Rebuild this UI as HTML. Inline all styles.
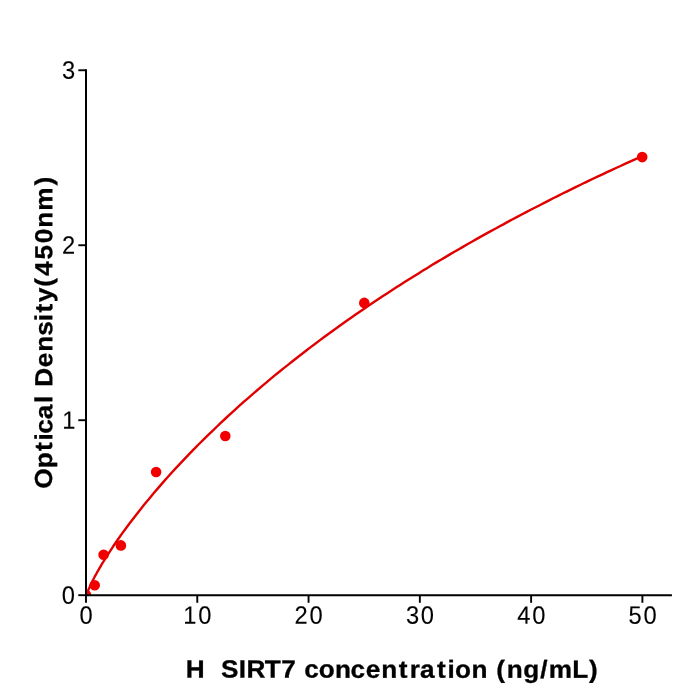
<!DOCTYPE html>
<html><head><meta charset="utf-8"><title>H SIRT7 ELISA standard curve</title>
<style>
html,body{margin:0;padding:0;background:#fff;}
body{width:700px;height:700px;overflow:hidden;font-family:"Liberation Sans",sans-serif;}
svg{display:block;will-change:transform;}
text{font-family:"Liberation Sans",sans-serif;fill:#000;text-rendering:geometricPrecision;}
.lab{font-weight:bold;}
</style></head><body>
<svg width="700" height="700" viewBox="0 0 700 700">
<rect width="700" height="700" fill="#ffffff"/>
<defs><clipPath id="ax"><rect x="86" y="70" width="584.3" height="525.1"/></clipPath></defs>

<g clip-path="url(#ax)"><polyline fill="none" stroke="#e10000" stroke-width="2.4" stroke-linejoin="round" stroke-linecap="round" points="86.5,595.3 87.3,592.8 88.0,590.8 88.8,588.9 89.6,587.2 90.3,585.5 91.1,583.9 91.9,582.3 92.6,580.8 93.4,579.3 94.2,577.8 94.9,576.3 95.7,574.9 96.5,573.5 97.2,572.1 98.0,570.8 98.8,569.4 99.5,568.1 100.3,566.8 101.1,565.5 101.8,564.2 102.6,562.9 103.4,561.7 104.2,560.4 104.9,559.2 105.7,557.9 106.5,556.7 107.2,555.5 108.0,554.3 108.8,553.1 113.2,546.3 117.7,539.8 122.2,533.4 126.7,527.2 131.2,521.3 135.7,515.4 140.2,509.7 144.7,504.1 149.2,498.7 153.6,493.3 158.1,488.1 162.6,482.9 167.1,477.8 171.6,472.8 176.1,467.9 180.6,463.1 185.1,458.4 189.6,453.7 194.0,449.1 198.5,444.5 203.0,440.1 207.5,435.6 212.0,431.3 216.5,427.0 221.0,422.7 225.5,418.5 229.9,414.4 234.4,410.3 238.9,406.2 243.4,402.2 247.9,398.3 252.4,394.4 256.9,390.5 261.4,386.7 265.9,382.9 270.3,379.1 274.8,375.4 279.3,371.8 283.8,368.1 288.3,364.6 292.8,361.0 297.3,357.5 301.8,354.0 306.3,350.5 310.7,347.1 315.2,343.7 319.7,340.4 324.2,337.0 328.7,333.7 333.2,330.5 337.7,327.2 342.2,324.0 346.7,320.8 351.1,317.7 355.6,314.6 360.1,311.5 364.6,308.4 369.1,305.3 373.6,302.3 378.1,299.3 382.6,296.3 387.0,293.4 391.5,290.5 396.0,287.6 400.5,284.7 405.0,281.8 409.5,279.0 414.0,276.2 418.5,273.4 423.0,270.6 427.4,267.9 431.9,265.1 436.4,262.4 440.9,259.7 445.4,257.1 449.9,254.4 454.4,251.8 458.9,249.2 463.4,246.6 467.8,244.0 472.3,241.5 476.8,238.9 481.3,236.4 485.8,233.9 490.3,231.4 494.8,229.0 499.3,226.5 503.8,224.1 508.2,221.6 512.7,219.2 517.2,216.9 521.7,214.5 526.2,212.1 530.7,209.8 535.2,207.5 539.7,205.2 544.2,202.9 548.6,200.6 553.1,198.3 557.6,196.1 562.1,193.8 566.6,191.6 571.1,189.4 575.6,187.2 580.1,185.0 584.5,182.8 589.0,180.7 593.5,178.5 598.0,176.4 602.5,174.3 607.0,172.2 611.5,170.1 616.0,168.0 620.5,166.0 624.9,163.9 629.4,161.9 633.9,159.8 638.4,157.8 642.9,155.8"/>
<circle cx="86.0" cy="595.1" r="5.3" fill="#f20000"/>
<circle cx="94.7" cy="585.3" r="5.3" fill="#f20000"/>
<circle cx="103.6" cy="554.7" r="5.3" fill="#f20000"/>
<circle cx="120.9" cy="545.4" r="5.3" fill="#f20000"/>
<circle cx="156.1" cy="472.0" r="5.3" fill="#f20000"/>
<circle cx="225.3" cy="436.0" r="5.3" fill="#f20000"/>
<circle cx="364.3" cy="302.9" r="5.3" fill="#f20000"/>
<circle cx="642.2" cy="157.1" r="5.3" fill="#f20000"/>
</g>
<g stroke="#000" stroke-width="2" stroke-linecap="square" fill="none">
<line x1="86.0" y1="595.2" x2="86.0" y2="70.26"/>
<line x1="86.0" y1="595.2" x2="670.92" y2="595.2"/>
</g><g stroke="#000" stroke-width="1.9" stroke-linecap="butt">
<line x1="86.00" y1="595.2" x2="86.00" y2="602.80"/>
<line x1="197.28" y1="595.2" x2="197.28" y2="602.80"/>
<line x1="308.56" y1="595.2" x2="308.56" y2="602.80"/>
<line x1="419.84" y1="595.2" x2="419.84" y2="602.80"/>
<line x1="531.12" y1="595.2" x2="531.12" y2="602.80"/>
<line x1="642.40" y1="595.2" x2="642.40" y2="602.80"/>
<line x1="86.0" y1="595.20" x2="78.30" y2="595.20"/>
<line x1="86.0" y1="420.22" x2="78.30" y2="420.22"/>
<line x1="86.0" y1="245.24" x2="78.30" y2="245.24"/>
<line x1="86.0" y1="70.26" x2="78.30" y2="70.26"/>
</g>
<text class="tick" transform="translate(78.78,623.75) rotate(0.03) scale(0.94,1)" x="0.88" y="0" font-size="25.2" stroke="#000" stroke-width="0.1" xml:space="preserve">0</text>
<text class="tick" transform="translate(182.65,623.75) rotate(0.03) scale(0.94,1)" x="0.75 16.65" y="0" font-size="25.2" stroke="#000" stroke-width="0.1" xml:space="preserve">10</text>
<text class="tick" transform="translate(293.93,623.75) rotate(0.03) scale(0.94,1)" x="0.55 16.65" y="0" font-size="25.2" stroke="#000" stroke-width="0.1" xml:space="preserve">20</text>
<text class="tick" transform="translate(405.21,623.75) rotate(0.03) scale(0.94,1)" x="0.91 16.65" y="0" font-size="25.2" stroke="#000" stroke-width="0.1" xml:space="preserve">30</text>
<text class="tick" transform="translate(516.49,623.75) rotate(0.03) scale(0.94,1)" x="0.87 16.65" y="0" font-size="25.2" stroke="#000" stroke-width="0.1" xml:space="preserve">40</text>
<text class="tick" transform="translate(627.77,623.75) rotate(0.03) scale(0.94,1)" x="0.78 16.65" y="0" font-size="25.2" stroke="#000" stroke-width="0.1" xml:space="preserve">50</text>
<text class="tick" transform="translate(60.82,603.70) rotate(0.03) scale(0.94,1)" x="0.88" y="0" font-size="25.2" stroke="#000" stroke-width="0.1" xml:space="preserve">0</text>
<text class="tick" transform="translate(61.42,428.72) rotate(0.03) scale(0.94,1)" x="0.75" y="0" font-size="25.2" stroke="#000" stroke-width="0.1" xml:space="preserve">1</text>
<text class="tick" transform="translate(61.60,253.74) rotate(0.03) scale(0.94,1)" x="0.55" y="0" font-size="25.2" stroke="#000" stroke-width="0.1" xml:space="preserve">2</text>
<text class="tick" transform="translate(61.14,78.76) rotate(0.03) scale(0.94,1)" x="0.91" y="0" font-size="25.2" stroke="#000" stroke-width="0.1" xml:space="preserve">3</text>
<text class="lab" transform="translate(185.55,677.55) rotate(0.03) scale(1.06,1)" x="0.29 18.13 24.99 33.51 50.21 57.50 74.61 90.32 104.06 111.89 125.67 141.07 155.69 169.93 184.68 201.07 211.42 221.11 237.26 247.09 254.29 269.68 284.77 293.07 303.05 318.62 334.73 342.65 364.81 380.55" y="0" font-size="24.7" stroke="#000" stroke-width="0.3" xml:space="preserve">H  SIRT7 concentration (ng/mL)</text>
<text class="lab" transform="translate(52.10,488.49) rotate(-89.97) scale(1.06,1)" x="-0.25 19.14 35.47 45.30 51.75 65.24 80.71 87.57 95.89 114.28 129.02 144.17 157.82 166.04 175.72 190.23 200.55 216.03 231.30 246.10 261.93 285.83" y="0" font-size="24.7" stroke="#000" stroke-width="0.3" xml:space="preserve">Optical Density(450nm)</text>
</svg></body></html>
